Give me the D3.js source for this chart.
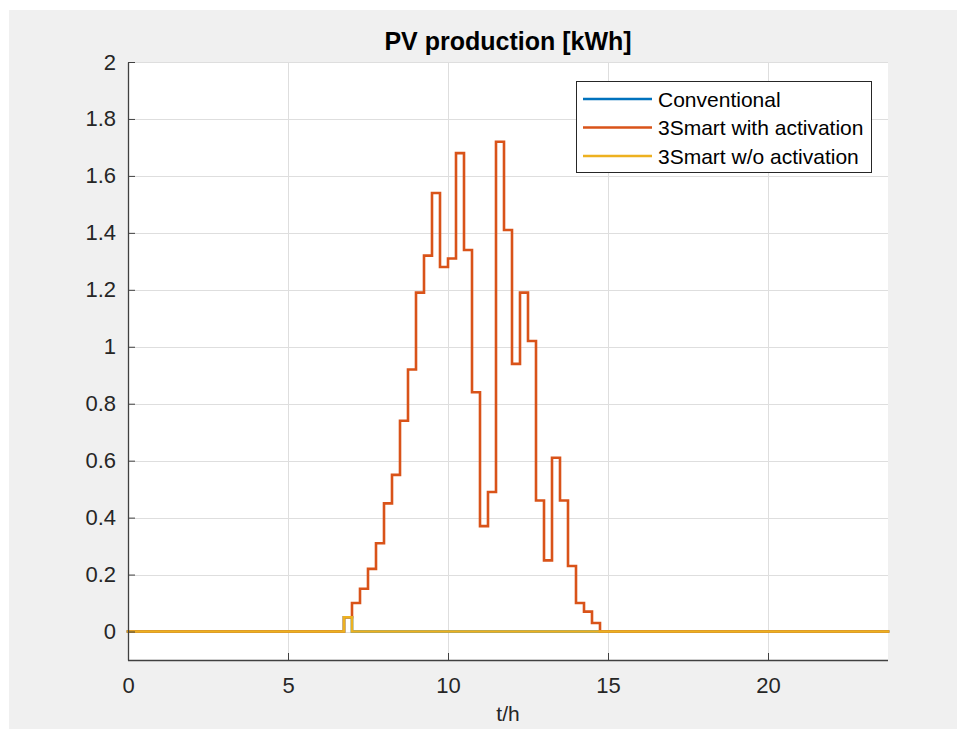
<!DOCTYPE html>
<html>
<head>
<meta charset="utf-8">
<script src="https://cdn.jsdelivr.net/npm/d3@7"></script>
<style>
  html, body { margin: 0; padding: 0; background: #fff; }
  svg { display: block; font-family: "Liberation Sans", Arial, sans-serif; }
</style>
</head>
<body>
<div id="chart"></div>
<script>
// 15-minute steps, 0:00 .. 23:45 (96 values each)
const stepH = 0.25;
const conventional = [
  0,0,0,0,0,0,0,0,0,0,0,0,0,0,0,0,0,0,0,0,0,0,0,0,
  0,0,0,0.05,0,0,0,0,0,0,0,0,0,0,0,0,0,0,0,0,0,0,0,0,
  0,0,0,0,0,0,0,0,0,0,0,0,0,0,0,0,0,0,0,0,0,0,0,0,
  0,0,0,0,0,0,0,0,0,0,0,0,0,0,0,0,0,0,0,0,0,0,0,0
];
const smartWithAct = [
  0,0,0,0,0,0,0,0,0,0,0,0,0,0,0,0,0,0,0,0,0,0,0,0,
  0,0,0,0.05,0.10,0.15,0.22,0.31,0.45,0.55,0.74,0.92,1.19,1.32,1.54,1.28,1.31,1.68,1.34,0.84,0.37,0.49,1.72,1.41,
  0.94,1.19,1.02,0.46,0.25,0.61,0.46,0.23,0.10,0.07,0.03,0,0,0,0,0,0,0,0,0,0,0,0,0,
  0,0,0,0,0,0,0,0,0,0,0,0,0,0,0,0,0,0,0,0,0,0,0,0
];
const smartWoAct = [
  0,0,0,0,0,0,0,0,0,0,0,0,0,0,0,0,0,0,0,0,0,0,0,0,
  0,0,0,0.05,0,0,0,0,0,0,0,0,0,0,0,0,0,0,0,0,0,0,0,0,
  0,0,0,0,0,0,0,0,0,0,0,0,0,0,0,0,0,0,0,0,0,0,0,0,
  0,0,0,0,0,0,0,0,0,0,0,0,0,0,0,0,0,0,0,0,0,0,0,0
];
const seriesNames = ["Conventional", "3Smart with activation", "3Smart w/o activation"];
const seriesColors = ["#0072BD", "#D95319", "#EDB120"];
const xTicks = [0, 5, 10, 15, 20];
const yTicks = [0, 0.2, 0.4, 0.6, 0.8, 1, 1.2, 1.4, 1.6, 1.8, 2];

const W = 957, H = 729;
const margin = { top: 62, right: 69, bottom: 69, left: 128 };
const width = W - margin.left - margin.right;
const height = H - margin.top - margin.bottom;

const svg = d3.select("#chart").append("svg")
    .attr("width", W)
    .attr("height", H);

// figure background
svg.append("rect")
    .attr("x", 9).attr("y", 10)
    .attr("width", W - 9).attr("height", H - 10)
    .attr("fill", "#f0f0f0");

const g = svg.append("g")
    .attr("transform", `translate(${margin.left}, ${margin.top})`);

g.append("rect")
    .attr("width", width).attr("height", height)
    .attr("fill", "#fff");

const x = d3.scaleLinear().domain([0, 23.75]).range([0, width]);
const y = d3.scaleLinear().domain([-0.1, 2]).range([height, 0]);

// grid
g.append("g").selectAll("line")
    .data(xTicks.slice(1))
    .enter().append("line")
    .attr("x1", d => Math.round(x(d)) + 0.5).attr("x2", d => Math.round(x(d)) + 0.5)
    .attr("y1", 0).attr("y2", height)
    .attr("stroke", "#dedede").attr("stroke-width", 1);
g.append("g").selectAll("line")
    .data(yTicks)
    .enter().append("line")
    .attr("x1", 0).attr("x2", width)
    .attr("y1", d => Math.round(y(d)) + 0.5).attr("y2", d => Math.round(y(d)) + 0.5)
    .attr("stroke", "#dedede").attr("stroke-width", 1);

// series (stairs)
const allSeries = [conventional, smartWithAct, smartWoAct];
const line = d3.line()
    .x(d => x(d.t))
    .y(d => y(d.v))
    .curve(d3.curveStepAfter);

allSeries.forEach((vals, k) => {
    const pts = vals.map((v, i) => ({ t: i * stepH, v: v }));
    g.append("path")
        .datum(pts)
        .attr("d", line)
        .attr("fill", "none")
        .attr("stroke", seriesColors[k])
        .attr("stroke-width", 2.6)
        .attr("stroke-linejoin", "miter")
        .attr("stroke-linecap", "square");
});

// axes
const xAxis = g.append("g")
    .attr("transform", `translate(0, ${height})`)
    .call(d3.axisBottom(x).tickValues(xTicks).tickSizeInner(-7).tickSizeOuter(0).tickPadding(17));
const yAxis = g.append("g")
    .call(d3.axisLeft(y).tickValues(yTicks).tickSizeInner(-7).tickSizeOuter(0).tickPadding(12)
        .tickFormat(d3.format("~g")));

[xAxis, yAxis].forEach(a => {
    a.select(".domain").attr("stroke", "#404040").attr("stroke-width", 1.3);
    a.selectAll(".tick line").attr("stroke", "#404040").attr("stroke-width", 1);
    a.selectAll(".tick text")
        .attr("fill", "#262626")
        .style("font-size", "22px")
        .style("font-family", "'Liberation Sans', Arial, sans-serif");
});
xAxis.selectAll(".tick text").attr("dy", "0.71em");
xAxis.select(".domain").attr("d", `M0,0.5H${width}`);

// title and x label
svg.append("text")
    .attr("x", margin.left + width / 2)
    .attr("y", 50)
    .attr("text-anchor", "middle")
    .style("font-size", "25px")
    .style("font-weight", "bold")
    .attr("fill", "#000")
    .text("PV production [kWh]");

svg.append("text")
    .attr("x", margin.left + width / 2)
    .attr("y", 721)
    .attr("text-anchor", "middle")
    .style("font-size", "21px")
    .attr("fill", "#262626")
    .text("t/h");

// legend
const lg = svg.append("g").attr("transform", "translate(576, 81)");
lg.append("rect")
    .attr("x", 0.5).attr("y", 0.5)
    .attr("width", 295).attr("height", 91)
    .attr("fill", "#fff")
    .attr("stroke", "#262626").attr("stroke-width", 1);
seriesNames.forEach((name, k) => {
    const yy = 18 + k * 28.5;
    lg.append("line")
        .attr("x1", 7).attr("x2", 76)
        .attr("y1", yy).attr("y2", yy)
        .attr("stroke", seriesColors[k]).attr("stroke-width", 2.6);
    lg.append("text")
        .attr("x", 82).attr("y", yy + 7.5)
        .style("font-size", "21px")
        .attr("fill", "#000")
        .text(name);
});
</script>
</body>
</html>
